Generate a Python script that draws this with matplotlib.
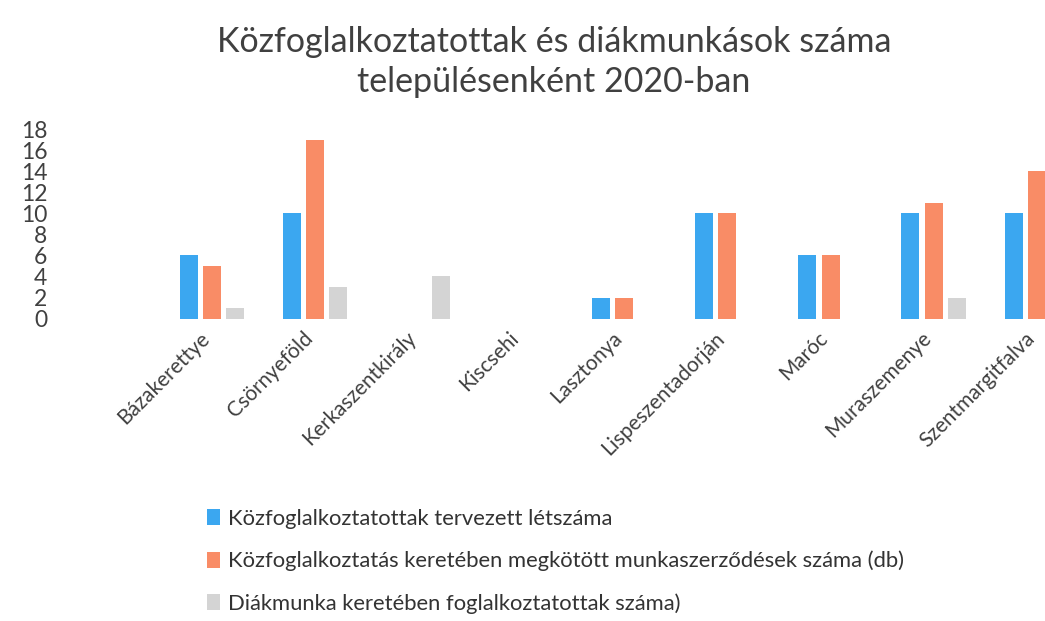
import matplotlib.pyplot as plt
import matplotlib.transforms as mtransforms
import numpy as np

plt.rcParams['font.family'] = ['Lato', 'DejaVu Sans']

telepulesek = ['Bázakerettye', 'Csörnyeföld', 'Kerkaszentkirály', 'Kiscsehi', 'Lasztonya',
               'Lispeszentadorján', 'Maróc', 'Muraszemenye', 'Szentmargitfalva']
tervezett = [6, 10, 0, 0, 2, 10, 6, 10, 10]
szerzodesek = [5, 17, 0, 0, 2, 10, 6, 11, 14]
diakmunka = [1, 3, 4, 0, 0, 0, 0, 2, 0]

sorozatok = ['Közfoglalkoztatottak tervezett létszáma',
             'Közfoglalkoztatás keretében megkötött munkaszerződések száma (db)',
             'Diákmunka keretében foglalkoztatottak száma)']
szinek = ['#3BA7F0', '#F98C66', '#D4D4D4']

fig = plt.figure(figsize=(10.45, 6.21), dpi=100)
ax = fig.add_axes([0.048, 0.487, 0.952, 0.305])

x = np.arange(len(telepulesek))
w = 0.175
ax.bar(x - 0.225, tervezett, w, color=szinek[0], label=sorozatok[0])
ax.bar(x, szerzodesek, w, color=szinek[1], label=sorozatok[1])
ax.bar(x + 0.225, diakmunka, w, color=szinek[2], label=sorozatok[2])

ax.set_ylim(0, 18)
ax.set_yticks(range(0, 19, 2))
ax.set_xlim(-1.57, 8.08)
ax.set_xticks(x)
ax.set_xticklabels([])
# ferde településnevek, kicsit lefelé tolva
eltolas = mtransforms.ScaledTranslation(-4 / 72, -12 / 72, fig.dpi_scale_trans)
for i, nev in zip(x, telepulesek):
    ax.text(i, 0, nev, transform=ax.get_xaxis_transform() + eltolas, rotation=45,
            ha='right', va='center', rotation_mode='anchor', fontsize=15, color='#404040')
ax.tick_params(axis='y', labelsize=16.5, labelcolor='#404040', length=0, pad=2)
ax.tick_params(axis='x', length=0)
for s in ax.spines.values():
    s.set_visible(False)

fig.text(0.53, 0.958, 'Közfoglalkoztatottak és diákmunkások száma\ntelepülésenként 2020-ban',
         ha='center', va='top', fontsize=24.5, color='#404040', linespacing=1.3)

fig.legend(loc='upper left', bbox_to_anchor=(0.19, 0.195), frameon=False, fontsize=15.8,
           labelcolor='#333333', handlelength=0.6, handleheight=0.75, handletextpad=0.35,
           labelspacing=1.0, borderaxespad=0)

plt.savefig('out.png', dpi=100)
